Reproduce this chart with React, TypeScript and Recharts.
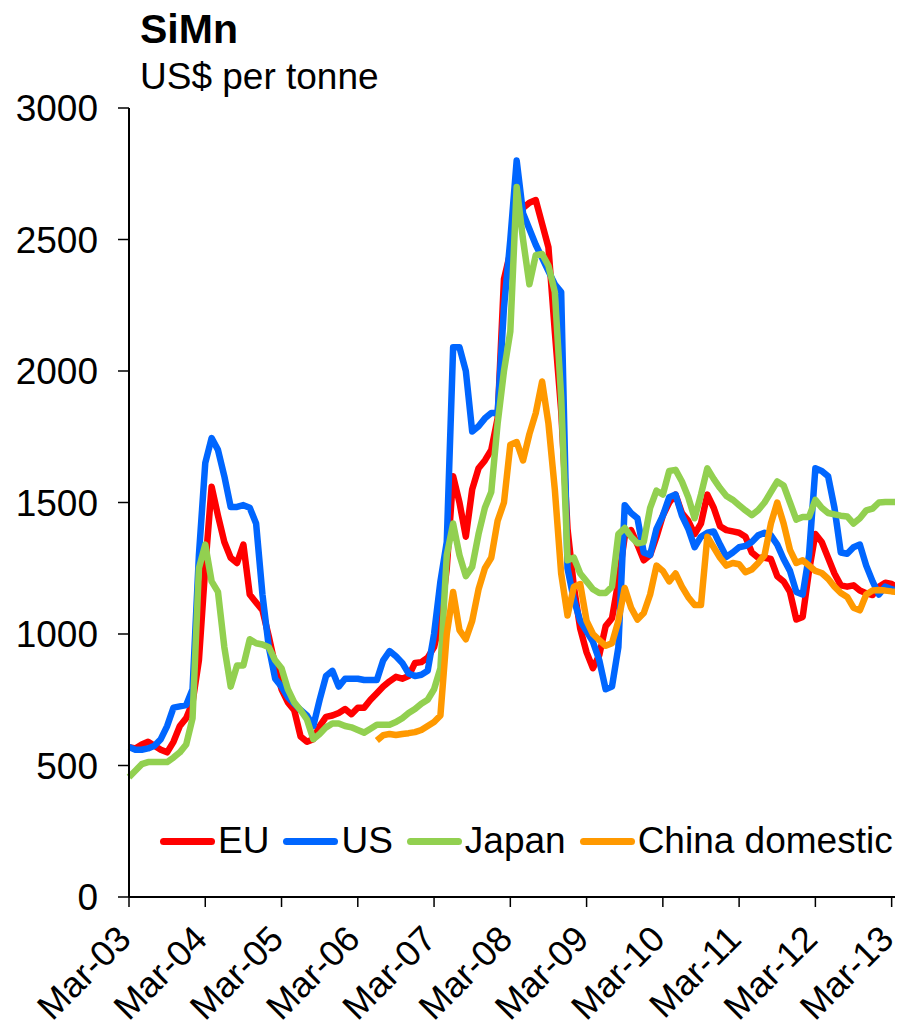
import { LineChart, Line, XAxis, YAxis } from 'recharts';

const FONT = '"Liberation Sans", Arial, sans-serif';

// month index 0 = Mar-03, 12 = Mar-04 ... 120 = Mar-13
const tickLabels = ['Mar-03', 'Mar-04', 'Mar-05', 'Mar-06', 'Mar-07', 'Mar-08', 'Mar-09', 'Mar-10', 'Mar-11', 'Mar-12', 'Mar-13'];
const xTicks = [0, 12, 24, 36, 48, 60, 72, 84, 96, 108, 120];
const yTicks = [0, 500, 1000, 1500, 2000, 2500, 3000];

const eu = [
  570, 565, 580, 590, 575, 560, 550, 590, 650, 680, 740, 900,
  1255, 1560, 1450, 1350, 1290, 1270, 1340, 1150, 1120, 1090, 990, 880,
  790, 740, 710, 610, 590, 600, 650, 685, 690, 700, 715, 695,
  720, 720, 750, 775, 800, 820, 837, 830, 840, 890, 893, 910,
  950, 1050, 1250, 1600, 1500, 1370, 1550, 1630, 1660, 1700, 1820, 2350,
  2450, 2620, 2620, 2640, 2650, 2560, 2470, 2150, 1850, 1400, 1180, 1020,
  930, 870, 920, 1030, 1060, 1200, 1370, 1395, 1340, 1280, 1300, 1370,
  1450, 1500, 1530, 1460, 1430, 1380, 1420, 1530, 1480, 1410, 1395, 1390,
  1385, 1370, 1310, 1290, 1290, 1285, 1220, 1200, 1160, 1055, 1065, 1240,
  1380, 1350, 1290, 1230, 1185, 1180, 1185, 1165, 1155, 1148, 1180, 1195,
  1190, 1175,
];

const us = [
  570, 560, 560, 565, 575, 600, 650, 720, 725, 730, 790, 1300,
  1650, 1745, 1700, 1600, 1483, 1483, 1490, 1480, 1420, 1150, 950, 830,
  800, 760, 735, 711, 690, 650, 750, 840, 860, 800, 830, 830,
  830, 825, 825, 825, 900, 935, 915, 890, 850, 840, 845, 860,
  1000, 1200, 1350, 2090, 2090, 2000, 1770, 1790, 1820, 1840, 1840, 2240,
  2500, 2800, 2600, 2540, 2480, 2430, 2380, 2330, 2300, 1250, 1130, 1050,
  1010, 970, 900, 790, 800, 950, 1490, 1460, 1440, 1310, 1300, 1400,
  1450, 1520, 1530, 1450, 1400, 1330, 1370, 1385, 1390, 1340, 1293, 1310,
  1330, 1335, 1350, 1375, 1385, 1375, 1340, 1285, 1240, 1160, 1150, 1300,
  1630, 1620, 1600, 1480, 1310, 1305, 1330, 1340, 1260, 1200, 1150, 1180,
  1170, 1165,
];

const japan = [
  456, 480, 505, 513, 513, 513, 513, 530, 550, 580, 680, 1250,
  1340, 1200, 1160, 950, 800, 880, 880, 980, 965, 960, 950, 900,
  870, 790, 740, 710, 675, 600, 620, 645, 660, 660, 650, 645,
  635, 625, 640, 655, 655, 655, 665, 680, 700, 715, 735, 750,
  790, 870, 1300, 1420, 1300, 1220, 1255, 1380, 1480, 1540, 1800, 2000,
  2150, 2700, 2500, 2330, 2440, 2445, 2400, 2300, 1900, 1280, 1290, 1230,
  1200, 1170, 1156, 1156, 1180, 1380, 1403, 1370, 1345, 1350, 1480, 1545,
  1530, 1620, 1624, 1580, 1520, 1440, 1530, 1630, 1590, 1555, 1525, 1510,
  1490, 1470, 1452, 1471, 1500, 1540, 1580, 1565, 1500, 1435, 1445, 1445,
  1510, 1480, 1460, 1455, 1450, 1447, 1420, 1440, 1470, 1477, 1500, 1502,
  1502, 1502,
];

// China domestic series starts in mid-2006 (index 39)
const chinaStart = 39;
const chinaValues = [
  595, 615, 620, 616, 620, 623, 627, 635, 650,
  665, 690, 1000, 1160, 1015, 980, 1050, 1170, 1250, 1290, 1430, 1500,
  1720, 1730, 1660, 1760, 1840, 1960, 1800, 1550, 1230, 1070, 1180, 1190,
  1050, 1000, 977, 955, 965, 1050, 1175, 1100, 1055, 1080, 1150, 1260,
  1240, 1200, 1230, 1180, 1140, 1110, 1110, 1370, 1330, 1290, 1260, 1270,
  1265, 1235, 1245, 1270, 1300, 1420, 1500, 1420, 1320, 1270, 1280, 1260,
  1240, 1232, 1210, 1180, 1156, 1141, 1100, 1090, 1150, 1165, 1167, 1165,
  1162, 1160,
];

const data = eu.map((v, i) => ({
  m: i,
  eu: v,
  us: us[i],
  japan: japan[i],
  china: i >= chinaStart ? chinaValues[i - chinaStart] : null,
}));

const series = [
  { key: 'eu', name: 'EU', color: '#FF0000' },
  { key: 'us', name: 'US', color: '#0066FF' },
  { key: 'japan', name: 'Japan', color: '#92D050' },
  { key: 'china', name: 'China domestic', color: '#FF9900' },
];

const XTick = ({ x, y, payload }: any) => (
  <g transform={`translate(${x + 4},${y + 32})`}>
    <text textAnchor="end" transform="rotate(-45)" fontSize={36} fill="#000" fontFamily={FONT}>
      {tickLabels[xTicks.indexOf(payload.value)]}
    </text>
  </g>
);

export default function App() {
  return (
    <div style={{ position: 'relative', width: 895, height: 1020 }}>
      <svg width={895} height={110} style={{ position: 'absolute', left: 0, top: 0, overflow: 'visible' }}>
        <text x={132} y={35} fontFamily={FONT} fontSize={41} fontWeight="bold" fill="#000">SiMn</text>
        <text x={132} y={81} fontFamily={FONT} fontSize={37} fill="#000">US$ per tonne</text>
      </svg>
      <LineChart
        width={895}
        height={1020}
        data={data}
        margin={{ top: 100, right: 5, bottom: 0, left: 0 }}
        style={{ overflow: 'visible' }}
      >
        <XAxis
          dataKey="m"
          type="number"
          domain={[0, 121]}
          ticks={xTicks}
          interval={0}
          tickSize={10}
          height={131}
          axisLine={{ stroke: '#000', strokeWidth: 2 }}
          tickLine={{ stroke: '#000', strokeWidth: 1.5 }}
          tick={<XTick />}
        />
        <YAxis
          type="number"
          domain={[0, 3000]}
          ticks={yTicks}
          width={121}
          tickSize={11}
          tickMargin={20}
          axisLine={{ stroke: '#000', strokeWidth: 2 }}
          tickLine={{ stroke: '#000', strokeWidth: 1.5 }}
          tick={{ fill: '#000', fontSize: 37, fontFamily: FONT }}
        />
        {series.map((s) => (
          <Line
            key={s.key}
            type="linear"
            dataKey={s.key}
            name={s.name}
            stroke={s.color}
            strokeWidth={6.5}
            strokeLinejoin="round"
            dot={false}
            activeDot={false}
            isAnimationActive={false}
          />
        ))}
      </LineChart>
      <div
        style={{
          position: 'absolute', left: 152, top: 812, display: 'flex', alignItems: 'center',
          fontFamily: FONT, fontSize: 37, color: '#000', whiteSpace: 'nowrap',
        }}
      >
        {series.map((s) => (
          <div key={s.key} style={{ display: 'flex', alignItems: 'center', marginRight: 14 }}>
            <span style={{ display: 'inline-block', width: 55, height: 7, borderRadius: 4, background: s.color, marginRight: 3 }} />
            <span>{s.name}</span>
          </div>
        ))}
      </div>
    </div>
  );
}
